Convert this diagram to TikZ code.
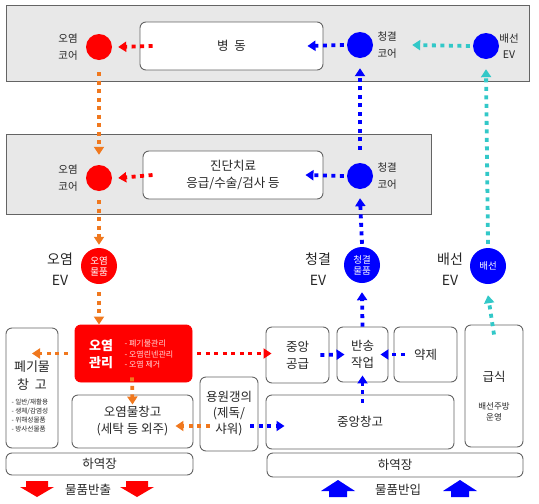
\documentclass[tikz,border=0pt]{standalone}
\usepackage{fontspec}
\setmainfont{Noto Sans CJK KR}
\usetikzlibrary{arrows.meta}
\definecolor{ored}{RGB}{255,0,0}
\definecolor{oorange}{RGB}{240,120,30}
\definecolor{oblue}{RGB}{0,0,255}
\definecolor{ocyan}{RGB}{50,200,200}
\definecolor{boxline}{RGB}{100,100,100}
\newcommand{\fsz}[2]{\fontsize{#1}{#2}\selectfont}

\begin{document}
\begin{tikzpicture}[x=1pt,y=-1pt,
    box/.style={draw=boxline,line width=0.9pt,rounded corners=6pt,align=center,inner sep=0pt,text=black!85,font=\fsz{12.5}{17}},
    band/.style={draw=boxline,line width=0.9pt,fill=gray!18},
    core/.style={circle,inner sep=0pt,minimum size=26pt},
    evdot/.style={circle,inner sep=0pt,minimum size=36pt,text=white,align=center,font=\fsz{9.5}{11}},
    lab/.style={align=center,text=black!85,font=\fsz{10.5}{16.5}},
    evlab/.style={align=center,text=black!85,font=\fsz{14}{21}},
    flow/.style={line width=3.8pt,dash pattern=on 4pt off 4.5pt,-{Triangle[width=10pt,length=8pt]}}]
    \useasboundingbox (0,0) rectangle (539,504);
    %병동, 진단치료 구역
    \draw [band] (6,5) rectangle (529,81);
    \draw [band] (6,134) rectangle (431,214);
    \node [box,fill=white,minimum width=183pt,minimum height=48pt] (ward) at (231.5,46) {병\ \ 동};
    \node [box,fill=white,minimum width=180pt,minimum height=48pt] (diag) at (233,175) {진단치료\\응급/수술/검사 등};
    %코어
    \node [core,fill=ored] (ctop) at (99,47) {};
    \node [lab] (ctopl) at (68,47) {오염\\코어};
    \node [core,fill=oblue] (ktop) at (360,45) {};
    \node [lab,anchor=west] (ktopl) at (374,45) {청결\\코어};
    \node [core,fill=oblue] (btop) at (486,46) {};
    \node [lab] (btopl) at (509,46) {배선\\EV};
    \node [core,fill=ored] (cmid) at (99,178) {};
    \node [lab] (cmidl) at (68,178) {오염\\코어};
    \node [core,fill=oblue] (kmid) at (360,176) {};
    \node [lab,anchor=west] (kmidl) at (374,176) {청결\\코어};
    %EV
    \node [evdot,fill=ored] (cev) at (99,266) {오염\\물품};
    \node [evlab] (cevl) at (60,269) {오염\\EV};
    \node [evdot,fill=oblue] (kev) at (362,265) {청결\\물품};
    \node [evlab] (kevl) at (318,269) {청결\\EV};
    \node [evdot,fill=oblue] (bev) at (488,266) {배선};
    \node [evlab] (bevl) at (450,269) {배선\\EV};
    %오염 구역
    \node [box,draw=ored,fill=ored,minimum width=117pt,minimum height=57pt] (mgmt) at (133.5,353.5) {};
    \node [align=center,text=white,font=\bfseries\fsz{13}{17}] (mgmtt) at (101,354) {오염\\관리};
    \node [anchor=west,align=left,text=white!85!red,font=\fsz{8}{10.5}] (mgmtl) at (121,354) {- 폐기물관리\\- 오염린넨관리\\- 오염 제거};
    \node [box,minimum width=52pt,minimum height=120pt] (waste) at (32,388) {};
    \node [align=center,text=black!85,font=\fsz{13}{18}] (wastet) at (32,376) {폐기물\\창\ \ 고};
    \node [anchor=west,align=left,text=black!85,font=\fsz{6.6}{9}] (wastel) at (8,415) {- 일반/재활용\\- 생체/감염성\\- 위해성물품\\- 방사선물품};
    \node [box,minimum width=121pt,minimum height=53pt] (cstore) at (132.5,421.5) {오염물창고\\(세탁 등 외주)};
    \node [box,minimum width=58pt,minimum height=74pt,font=\fsz{12.5}{16}] (change) at (229,414) {용원갱의\\(제독/\\샤워)};
    \node [box,minimum width=187pt,minimum height=22pt] (dockl) at (99.5,464) {하역장};
    %청결 구역
    \node [box,minimum width=63pt,minimum height=56pt] (supply) at (297.5,355) {중앙\\공급};
    \node [box,minimum width=51pt,minimum height=55pt] (ret) at (362.5,354.5) {반송\\작업};
    \node [box,minimum width=63pt,minimum height=55pt] (pharm) at (425.5,354.5) {약제};
    \node [box,minimum width=58pt,minimum height=122pt] (food) at (494,386) {};
    \node [align=center,text=black!85,font=\fsz{12.5}{17}] (foodt) at (494,377) {급식};
    \node [align=center,text=black!85,font=\fsz{8.5}{11.5}] (foodl) at (494,412) {배선주방\\운영};
    \node [box,minimum width=188pt,minimum height=54pt] (kstore) at (360,422) {중앙창고};
    \node [box,minimum width=256pt,minimum height=24pt] (dockr) at (395,465) {하역장};
    %반출, 반입
    \node [text=black!85,font=\fsz{12.5}{14}] (outl) at (88,490) {물품반출};
    \node [text=black!85,font=\fsz{12.5}{14}] (inl) at (398,490) {물품반입};
    \foreach \x in {37,137}
        \fill [ored] (\x-11,481) -- (\x+11,481) -- (\x+11,487) -- (\x+17,487) -- (\x,497) -- (\x-17,487) -- (\x-11,487) -- cycle;
    \foreach \x in {338,460}
        \fill [oblue] (\x,480) -- (\x+17,491) -- (\x+9,491) -- (\x+9,497) -- (\x-9,497) -- (\x-9,491) -- (\x-17,491) -- cycle;
    %흐름 화살표
    \draw [flow,ored] ([xshift=13pt]ward.west) -- ([xshift=6pt]ctop.east);
    \draw [flow,oblue] ([xshift=-3pt]ktop.west) -- ([xshift=-16pt]ward.east);
    \draw [flow,ocyan] ([xshift=-3pt]btop.west) -- ([xshift=39pt]ktop.east);
    \draw [flow,ored] ([xshift=10pt]diag.west) -- ([xshift=6pt]cmid.east);
    \draw [flow,oblue] ([xshift=-3pt]kmid.west) -- ([xshift=-18pt]diag.east);
    \draw [flow,oorange] ([yshift=-12pt]ctop.south) -- ([yshift=10pt]cmid.north);
    \draw [flow,oorange] ([yshift=-9pt]cmid.south) -- ([yshift=3pt]cev.north);
    \draw [flow,oorange] ([yshift=-8pt]cev.south) -- (cev.south |- mgmt.north);
    \draw [flow,oblue] ([yshift=13pt]kmid.north) -- ([yshift=-10pt]ktop.south);
    \draw [flow,oblue] ([yshift=3pt]kev.north) -- ([yshift=-9pt]kmid.south);
    \draw [flow,oblue] (ret.north) -- ([yshift=-9pt]kev.south);
    \draw [flow,ocyan] ([yshift=4pt]bev.north) -- ([yshift=-10pt]btop.south);
    \draw [flow,ocyan] ([yshift=-10pt]food.north) -- ([yshift=-11pt]bev.south);
    \draw [flow,oorange] ([xshift=-7pt]mgmt.west) -- (mgmt.west -| waste.center);
    \draw [flow,ored] ([xshift=5pt]mgmt.east) -- ([xshift=6pt]mgmt.east -| supply.west);
    \draw [flow,oblue] ([xshift=-9pt]supply.east) -- ([xshift=8pt]ret.west);
    \draw [flow,oblue] ([xshift=11pt]pharm.west) -- ([xshift=-8pt]ret.east);
    \draw [flow,oblue] ([yshift=-8pt]kstore.north -| ret.south) -- ([yshift=7pt]ret.south);
    \draw [flow,oorange] ([xshift=-1.5pt,yshift=5pt]mgmt.south) -- ([yshift=-10pt]cstore.north);
    \draw [flow,oorange] ([xshift=10pt,yshift=-12pt]change.west) -- ([xshift=-18pt,yshift=-4.5pt]cstore.east);
    \draw [flow,oblue] ([xshift=-8pt,yshift=-12pt]change.east) -- ([xshift=19pt,yshift=-4pt]kstore.west);
\end{tikzpicture}
\end{document}
